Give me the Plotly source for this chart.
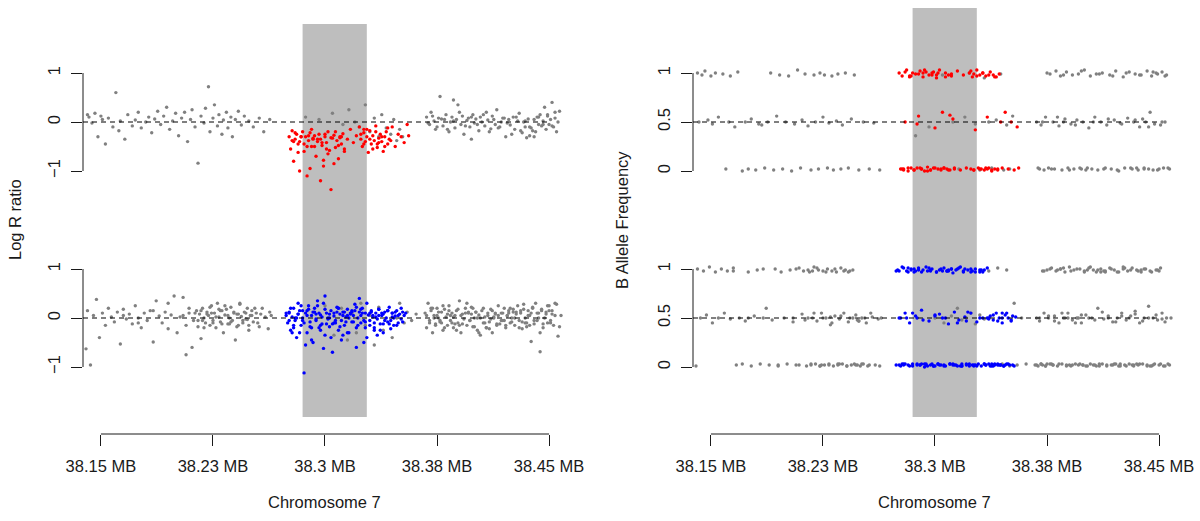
import plotly.graph_objects as go

W, H = 1200, 521
FONT = "Liberation Sans, Arial, Helvetica, sans-serif"

# ---------------- axis / region values ----------------
TICK_KB = [38150, 38225, 38300, 38375, 38450]
TICK_TEXT = ["38.15 MB", "38.23 MB", "38.3 MB", "38.38 MB", "38.45 MB"]
X_RANGE = [38138, 38460]
CNV_REGION = [38285, 38328]
LRR_TICKS = [-1, 0, 1]
LRR_TEXT = ["\u22121", "0", "1"]
BAF_TICKS = [0, 0.5, 1]
BAF_TEXT = ["0", "0.5", "1"]
LRR_REF = 0
BAF_REF = 0.5

# ---------------- upper sample ----------------
POS_U_A = [38141, 38142, 38144, 38146, 38148, 38150, 38151, 38153, 38155, 38158,
           38160, 38162, 38163, 38166, 38168, 38171, 38173, 38175, 38177, 38180,
           38182, 38184, 38186, 38188, 38190, 38192, 38194, 38196, 38198, 38200,
           38202, 38204, 38206, 38208, 38210, 38211, 38213, 38215, 38217, 38219,
           38220, 38222, 38223, 38225, 38226, 38228, 38229, 38231, 38232, 38234,
           38235, 38237, 38238, 38240, 38242, 38244, 38246, 38249, 38252, 38256,
           38259, 38263]
LRR_U_A = [.15, .1, -.02, .18, -.3, .12, .05, -.45, .08, -.1,
           .6, -.18, .02, -.35, .15, -.08, .04, .2, -.12, .0,
           .1, -.22, .06, .22, -.05, .12, .3, -.15, .02, .18,
           -.28, .08, .2, -.4, .05, .25, -.1, -.84, .12, -.02,
           .28, .72, -.2, .08, .35, -.08, .15, -.25, .04, .2,
           -.12, .1, -.3, .05, .22, -.06, .12, .02, -.1, .08,
           -.2, .05]
BAF_U_A = [1.0, .5, .98, 1.02, .52, .97, .48, 1.0, .55, .99,
           .02, .5, .97, .45, 1.01, 0.0, .5, .02, .53, .01,
           .48, .47, .03, .5, 1.0, .01, .56, .98, .02, .5,
           .97, 0.0, .48, 1.03, .03, .52, .99, .46, .01, .98,
           .5, .02, 1.0, .55, .98, .03, .49, .97, .01, .51,
           .99, .02, .47, 1.0, .03, .53, .98, .01, .5, .02,
           .49, .01]

POS_U_CNV = [38276, 38277, 38278, 38279, 38280, 38281, 38282, 38283, 38284, 38285,
             38286, 38287, 38288, 38289, 38290, 38291, 38292, 38293, 38294, 38295,
             38296, 38297, 38298, 38299, 38300, 38301, 38302, 38303, 38304, 38305,
             38306, 38307, 38308, 38309, 38310, 38311, 38312, 38313, 38315, 38317,
             38319, 38321, 38323, 38324, 38325, 38326, 38327, 38328, 38329, 38330,
             38331, 38332, 38333, 38334, 38335, 38336, 38337, 38338, 38339, 38340,
             38341, 38342, 38343, 38345, 38347, 38349, 38351, 38353, 38355, 38356,
             38279, 38283, 38288, 38292, 38297, 38301, 38306, 38310, 38326, 38335,
             38278, 38280, 38282, 38284, 38286, 38289, 38291, 38293, 38295, 38298,
             38300, 38302, 38304, 38307, 38309, 38311, 38313, 38324, 38326, 38328,
             38330, 38332, 38334, 38336, 38338, 38340, 38342, 38344, 38290, 38299]
LRR_U_CNV = [-.3, -.55, -.18, -.8, -.35, -.25, -.62, -.4, -.3, -.2,
             -.45, -.3, -1.1, -.38, -.22, -.5, -.33, -.28, -.7, -.4,
             -.25, -.35, -.48, -.9, -.3, -.42, -.2, -.58, -1.38, -.33,
             -.27, -.52, -.38, -.75, -.3, -.45, -.24, -.6, -.35, -.15,
             -.42, -.28, -.1, -.35, -.5, -.22, -.4, -.3, -.62, -.18,
             -.45, -.28, -.38, -.08, -.52, -.33, -.25, -.4, -.6, -.3,
             -.2, -.45, -.35, -.1, -.5, -.25, -.3, -.42, -.05, -.28,
             -.4, -1.0, -.5, -.35, -1.2, -.55, -.85, -.32, -.15, -.45,
             -.38, -.22, -.45, -.3, -.6, -.28, -.15, -.5, -.35, -.42,
             -.25, -.65, -.32, -.2, -.48, -.3, -.55, -.25, -.45, -.15,
             -.35, -.55, -.2, -.42, -.3, -.5, -.12, -.38, -.95, -.78]
BAF_U_CNV = [1.0, .02, .97, .01, .5, 1.03, 0.0, .96, .03, 1.0,
             .01, .99, .03, .56, 1.02, .02, .96, 0.0, 1.01, .04,
             .98, .01, 1.0, .03, .44, .95, .02, 1.03, .01, .6,
             .03, 1.0, .02, .98, .01, .97, .53, .02, 1.02, .01,
             .98, .03, 1.0, .02, .96, .01, .42, 1.03, .03, .98,
             .02, 1.0, .01, .97, .55, .03, 1.01, 0.0, .98, .02,
             .96, .01, .99, .03, .6, .02, .5, .01, .45, .03,
             .02, .97, .48, 1.0, .01, .98, .03, .57, .99, .02,
             .02, 1.01, .03, .97, .01, .99, .02, 1.03, 0.0, .98,
             .03, 1.0, .02, .96, .01, .99, .03, 1.02, .01, .97,
             .02, 1.0, .03, .98, .01, .96, .02, .5, .03, 1.01]

POS_U_NEAR = [38287, 38296, 38305, 38312, 38316, 38320, 38323, 38327, 38330, 38333,
              38336, 38338, 38341, 38344, 38346, 38348, 38350, 38352]
LRR_U_NEAR = [.1, .05, .18, -.05, .25, .0, -.1, .35, -.2, .08,
              -.3, .15, -.12, -.25, .05, -.38, -.15, -.3]
BAF_U_NEAR = [.36, .45, .98, .5, .02, .55, 1.0, .48, .01, .95,
              .5, .03, .52, .99, .01, .47, .02, .56]

POS_U_C = [38368, 38370, 38371, 38373, 38374, 38376, 38377, 38379, 38380, 38381,
           38383, 38384, 38385, 38387, 38388, 38389, 38391, 38392, 38393, 38395,
           38396, 38397, 38399, 38400, 38401, 38403, 38404, 38405, 38407, 38408,
           38409, 38411, 38412, 38414, 38415, 38417, 38418, 38420, 38421, 38423,
           38424, 38426, 38427, 38429, 38430, 38432, 38433, 38434, 38436, 38437,
           38438, 38440, 38441, 38442, 38443, 38444, 38445, 38446, 38447, 38448,
           38435, 38439, 38449, 38450, 38451, 38452, 38453, 38454, 38455, 38457,
           38369, 38372, 38375, 38378, 38382, 38386, 38390, 38394, 38398, 38402,
           38406, 38410, 38413, 38416, 38419, 38422, 38425, 38428, 38431, 38434,
           38437, 38440, 38443, 38446, 38449, 38452, 38454, 38456, 38386, 38398]
LRR_U_C = [.1, -.05, .2, .02, -.15, .08, .52, -.08, .05, .15,
           -.2, .0, .1, -.12, .05, .35, -.05, .12, -.25, .03,
           .08, -.1, .15, -.02, .06, -.18, .1, .0, -.08, .2,
           .04, -.14, .12, -.05, .25, -.1, .0, .08, -.3, .05,
           -.06, .1, -.15, .02, .18, -.22, .0, -.1, .06, -.28,
           -.12, .05, -.2, .1, -.05, .15, -.08, .02, .3, -.15,
           -.32, -.18, .12, -.05, .05, .4, -.1, .08, -.2, .22,
           -.02, .12, -.1, .06, -.15, .02, .2, -.08, .1, -.05,
           .15, -.2, .05, -.12, .08, -.02, -.25, .1, -.18, .02,
           -.1, -.3, .1, -.05, .15, -.08, .2, .0, .45, -.35]
BAF_U_C = [.5, .02, .47, .01, .55, .03, .99, .5, .02, 1.02,
           .46, .97, .01, .53, 1.01, .03, .48, .98, .02, .52,
           .99, .03, .5, 1.03, .01, .44, .97, .02, .55, .99,
           .01, .5, 1.0, .03, .47, .98, .02, .52, 1.02, 0.0,
           .49, .96, .03, .54, 1.01, .02, .5, .99, .01, .45,
           .98, .03, .5, 1.02, .02, .6, .97, .01, .48, 1.0,
           .03, .53, .99, .02, .47, 1.01, .03, .5, .98, .02,
           .03, .5, 1.0, .02, .55, .98, .01, .47, 1.02, .03,
           .5, .99, .02, .53, .97, .01, .48, 1.0, .03, .52,
           .98, .02, .45, 1.01, .01, .5, .97, .03, .5, .02]

# ---------------- lower sample ----------------
POS_L_A = [38140, 38141, 38143, 38145, 38147, 38149, 38151, 38153, 38155, 38157,
           38159, 38161, 38163, 38165, 38167, 38169, 38171, 38173, 38175, 38177,
           38179, 38181, 38183, 38185, 38187, 38189, 38191, 38193, 38195, 38197,
           38199, 38201, 38203, 38205, 38207, 38209, 38211, 38212, 38214, 38215,
           38216, 38217, 38218, 38219, 38220, 38221, 38222, 38223, 38224, 38225,
           38226, 38227, 38228, 38229, 38230, 38231, 38232, 38233, 38234, 38235,
           38236, 38237, 38238, 38239, 38240, 38241, 38242, 38243, 38244, 38245,
           38246, 38247, 38248, 38249, 38250, 38251, 38252, 38254, 38256, 38258,
           38260, 38262, 38263, 38264, 38218, 38224, 38230, 38236, 38242, 38248,
           38205, 38207, 38209, 38213, 38215, 38217, 38219, 38221, 38223, 38225,
           38227, 38229, 38231, 38233, 38235, 38237, 38239, 38241, 38243, 38245,
           38247, 38249, 38251, 38253, 38255, 38257, 38185, 38175, 38195, 38165]
LRR_L_A = [-.63, .15, -.96, .05, .38, -.4, .1, -.15, .2, .02,
           -.08, .12, -.53, .18, -.02, .08, -.12, .25, .0, -.2,
           .1, -.05, .15, -.49, .35, .04, -.1, .12, -.22, .06,
           .45, -.3, .02, .42, -.75, .1, -.6, -.05, .15, -.18,
           .08, -.42, .2, .0, -.1, .12, .05, -.15, .25, -.05,
           .1, -.2, .3, .02, -.08, .15, -.3, .06, .18, -.12,
           .0, .22, -.05, .1, -.45, .08, -.15, .28, .03, -.1,
           .12, -.02, .2, -.25, .05, .15, -.08, .1, -.18, .2,
           .02, -.22, .12, .05, -.05, .1, .15, -.12, .08, -.03,
           .05, -.15, .2, .1, -.05, .15, -.2, .08, .22, -.1,
           .02, .18, -.12, .25, .05, -.08, .12, -.18, .3, -.05,
           .1, -.15, .05, .2, -.1, .08, .15, -.1, .3, .05]
BAF_L_A = [.01, 1.0, .5, .98, .53, 1.02, .45, .97, .5, 1.0,
           .55, .98, .49, 1.01, .02, .5, .03, .47, .97, .01,
           .52, .99, .03, .5, .6, .02, .48, 1.0, .01, .97,
           .5, .03, .99, .46, .02, 1.01, .54, .98, .01, .5,
           .97, .02, .5, 1.02, .03, .47, .99, .01, .55, .98,
           .02, .5, 1.0, .03, .43, .98, .01, .52, .97, .02,
           .49, 1.01, .03, .55, .99, .01, .46, .98, .02, .5,
           .03, .53, .02, .47, .01, .5, .03, .45, .02, .51,
           .02, .49, .01, .5, .98, .02, .51, .03, .97, .48,
           .5, 1.0, .02, .48, .99, .03, .55, 1.01, .01, .5,
           .97, .02, .45, 1.0, .03, .52, .98, .01, .5, .99,
           .02, .47, .03, .5, .01, .55, 1.0, .5, .02, .98]

POS_L_CNV = [38274, 38275, 38276, 38277, 38278, 38279, 38280, 38281, 38282, 38283,
             38284, 38285, 38286, 38287, 38288, 38289, 38290, 38291, 38292, 38293,
             38294, 38295, 38296, 38297, 38298, 38299, 38300, 38301, 38302, 38303,
             38304, 38305, 38306, 38307, 38308, 38309, 38310, 38311, 38312, 38313,
             38314, 38315, 38316, 38317, 38318, 38319, 38320, 38321, 38322, 38323,
             38324, 38325, 38326, 38327, 38328, 38329, 38330, 38331, 38332, 38333,
             38334, 38335, 38336, 38337, 38338, 38339, 38340, 38341, 38342, 38343,
             38344, 38345, 38346, 38347, 38348, 38349, 38350, 38351, 38352, 38353,
             38276, 38279, 38282, 38285, 38288, 38291, 38294, 38297, 38300, 38303,
             38306, 38309, 38312, 38315, 38318, 38321, 38324, 38327, 38330, 38333,
             38336, 38339, 38342, 38345, 38278, 38284, 38290, 38296, 38302, 38308,
             38314, 38320, 38326, 38332, 38338, 38344, 38281, 38293, 38305, 38317,
             38274, 38276, 38277, 38279, 38280, 38282, 38283, 38285, 38286, 38288,
             38289, 38291, 38292, 38294, 38295, 38297, 38298, 38300, 38301, 38303,
             38304, 38306, 38307, 38309, 38310, 38312, 38313, 38315, 38316, 38318,
             38319, 38321, 38322, 38324, 38325, 38327, 38328, 38330, 38331, 38333,
             38334, 38336, 38337, 38339, 38340, 38342, 38343, 38345, 38346, 38348,
             38349, 38351, 38352, 38354, 38287, 38299, 38311, 38323, 38335, 38347]
LRR_L_CNV = [.05, -.1, .12, -.25, .02, .2, -.05, -.4, .08, .15,
             -.15, .0, -1.12, .1, -.3, .18, -.08, .05, -.5, .12,
             -.02, .25, -.2, .06, -.12, .3, -.35, .1, .0, -.18,
             .15, -.7, .04, -.1, .22, -.25, .08, -.05, .12, -.15,
             .02, .18, -.3, .1, -.08, .05, .28, -.2, .0, .12,
             -.1, .2, -.05, .1, -.4, .06, -.15, .15, .02, -.25,
             .1, -.02, .18, -.12, .05, -.3, .12, .0, -.08, .22,
             -.05, .1, -.15, .04, .15, -.1, .08, -.02, .12, .05,
             .1, -.2, .3, -.05, .15, -.45, .08, -.15, .45, .0,
             -.1, .2, -.35, .05, .12, -.6, .18, -.08, .1, -.2,
             .05, -.12, .15, .02, -.3, .25, -.18, .1, -.02, .12,
             -.08, .15, -.5, .05, .1, -.22, .0, .2, -.12, .08,
             .1, -.05, .2, -.15, .0, .08, -.3, .15, -.1, .05,
             .25, -.2, .12, -.05, .35, -.25, .02, .18, -.12, .08,
             -.4, .1, -.05, .2, -.18, .05, .12, -.3, .0, .15,
             -.08, .22, -.15, .05, .1, -.2, .3, -.05, .12, -.1,
             .02, .18, -.25, .08, -.05, .15, -.12, .1, .0, -.15,
             .05, .2, -.08, .1, -.55, -.62, -.45, .4, -.35, .12]
BAF_L_CNV = [.02, .99, .5, .01, 1.02, .03, .55, .98, .02, .45,
             1.0, .01, .97, .52, .03, 1.01, .02, .58, .99, 0.0,
             .03, .98, .47, .02, 1.0, .01, .53, .97, .03, .99,
             .02, .5, 1.01, .01, .98, .44, .03, 1.0, .02, .56,
             .99, .01, .48, 1.02, .03, .97, .51, .02, .99, .01,
             .55, .98, .02, 1.0, .46, .03, .97, .01, .5, .99,
             .02, 1.01, .03, .52, .01, .48, .02, .55, .03, .5,
             .02, .45, .01, .53, .03, .5, .02, .47, .52, .01,
             .98, .02, 1.01, .03, .5, .97, .02, .99, .01, .54,
             .02, .98, .03, 1.0, .01, .47, .97, .02, .99, .03,
             .5, .01, .02, .55, .03, .99, .02, 1.01, .03, .98,
             .02, 1.0, .01, .97, .03, .02, .5, .03, .98, .01,
             .98, .02, .5, 1.01, .03, .97, .01, .55, 1.0, .02,
             .99, .03, .48, 1.02, .01, .98, .03, .52, .97, .02,
             1.0, .01, .5, .99, .03, .96, .02, .45, 1.01, .01,
             .98, .03, .56, 1.0, .02, .97, .01, .5, .99, .03,
             .02, .49, .01, .53, .03, .47, .02, .5, .01, .55,
             .03, .48, .02, .51, .98, .01, 1.0, .03, .5, .02]

POS_L_NEAR = [38300, 38306, 38311, 38315, 38318, 38321, 38324, 38327, 38330, 38333,
              38336, 38339, 38342, 38345, 38348, 38350, 38353, 38355, 38358, 38361]
LRR_L_NEAR = [.25, -.35, .2, -.45, .1, -.3, .3, -.15, .05, -.55,
              .22, -.25, .15, -.4, .0, .3, -.1, .12, -.05, .08]
BAF_L_NEAR = [.5, .45, .52, .6, .48, .5, .55, .44, .53, .49,
              .98, .02, 1.01, .03, .99, .01, .65, .02, .5, .03]

POS_L_C = [38367, 38368, 38369, 38370, 38371, 38372, 38373, 38374, 38375, 38376,
           38377, 38378, 38379, 38380, 38381, 38382, 38383, 38384, 38385, 38386,
           38387, 38388, 38389, 38390, 38391, 38392, 38393, 38394, 38395, 38396,
           38397, 38398, 38399, 38400, 38401, 38402, 38403, 38404, 38405, 38406,
           38407, 38408, 38409, 38410, 38411, 38412, 38413, 38414, 38415, 38416,
           38417, 38418, 38419, 38420, 38421, 38422, 38423, 38424, 38425, 38426,
           38427, 38428, 38429, 38430, 38431, 38432, 38433, 38434, 38435, 38436,
           38437, 38438, 38439, 38440, 38441, 38442, 38443, 38444, 38445, 38446,
           38447, 38448, 38449, 38450, 38451, 38452, 38453, 38454, 38456, 38458,
           38372, 38378, 38384, 38390, 38396, 38402, 38408, 38414, 38420, 38426,
           38432, 38438, 38444, 38450, 38375, 38387, 38399, 38411, 38423, 38435,
           38368, 38370, 38371, 38373, 38374, 38376, 38377, 38379, 38380, 38382,
           38383, 38385, 38386, 38388, 38389, 38391, 38392, 38394, 38395, 38397,
           38398, 38400, 38401, 38403, 38404, 38406, 38407, 38409, 38410, 38412,
           38413, 38415, 38416, 38418, 38419, 38421, 38422, 38424, 38425, 38427,
           38428, 38430, 38431, 38433, 38434, 38436, 38437, 38439, 38440, 38442,
           38443, 38445, 38446, 38448, 38449, 38451, 38452, 38454, 38455, 38457]
LRR_L_C = [.1, -.2, .3, -.05, .15, -.3, .05, -.12, .2, .0,
           -.08, .12, -.25, .18, .02, -.15, .25, -.05, .1, -.2,
           .05, .15, -.1, .35, -.3, .08, -.02, .2, -.15, .1,
           -.05, .22, -.18, .0, .12, -.25, .06, -.35, .15, -.1,
           .02, -.2, .1, -.08, .18, -.3, .0, .08, -.15, .05,
           -.12, .1, -.05, .2, -.2, .04, .15, -.1, .0, .12,
           -.15, .08, .25, -.05, .1, -.22, .18, .0, -.1, .15,
           .05, -.48, .2, -.12, .3, -.05, .1, -.69, .15, -.2,
           .0, .12, -.1, .25, -.05, .08, -.15, .3, -.37, .05,
           .2, -.1, .05, -.15, .12, .0, -.2, .1, -.05, .18,
           -.08, .1, -.3, .15, .05, -.12, .2, -.02, .1, -.18,
           .05, -.1, .2, .0, -.15, .12, -.05, .25, -.2, .08,
           .15, -.1, .02, -.25, .18, .05, -.12, .1, .3, -.05,
           .08, -.18, .12, -.3, .0, .2, -.1, .05, -.22, .15,
           .02, -.12, .25, -.05, .1, -.15, .05, .2, -.08, .0,
           .12, -.2, .15, .28, -.1, .05, -.15, .22, -.05, .1,
           .0, .18, -.12, .08, .25, -.1, .15, .05, .28, -.18]
BAF_L_C = [.02, .5, .01, .47, .03, .02, .55, .01, .99, .5,
           .03, 1.01, .02, .52, .98, .01, .45, 1.0, .03, .5,
           .97, .02, .55, 1.02, .01, .48, .99, .03, .5, .02,
           1.0, .45, .02, .98, .53, .01, 1.01, .03, .5, .99,
           .02, .97, .6, .01, 1.0, .03, .49, .98, .02, .52,
           1.01, .02, .46, .99, .03, .5, .97, .01, .55, 1.0,
           .02, .48, .98, .03, .52, 1.01, .01, .57, .99, .02,
           .45, .97, .03, .5, 1.0, .02, .62, .98, .01, .5,
           .03, .99, .48, .02, 1.01, .55, .01, .46, .03, .5,
           .98, .03, 1.0, .02, .5, .99, .01, .97, .03, 1.02,
           .02, .99, .01, .98, .03, .5, .02, .97, .01, .03,
           .02, .5, .03, .98, .01, .52, 1.0, .02, .47, .99,
           .03, .55, 1.01, .01, .5, .98, .02, .45, 1.0, .03,
           .53, .97, .01, .5, 1.02, .02, .48, .99, .03, .56,
           .98, .01, .5, 1.0, .02, .46, .97, .03, .52, 1.01,
           .01, .5, .99, .02, .54, .98, .03, .47, 1.0, .01,
           .5, .97, .02, .53, .99, .03, .49, .01, .5, .02]

GRAY = "#808080"
RED = "#ff0000"
BLUE = "#0000ff"
SHADE = "#bebebe"
INK = "#1a1a1a"
MSIZE = 3.4


def py(p):
    return 1 - p / H


def px(p):
    return p / W


fig = go.Figure()


def add_pts(x, y, color, xa, ya):
    fig.add_trace(go.Scatter(x=x, y=y, mode="markers", xaxis=xa, yaxis=ya,
                             marker=dict(color=color, size=MSIZE, line=dict(width=0)),
                             hoverinfo="skip", showlegend=False))


U_GRAY_X = POS_U_A + POS_U_NEAR + POS_U_C
L_GRAY_X = POS_L_A + POS_L_NEAR + POS_L_C

add_pts(U_GRAY_X, LRR_U_A + LRR_U_NEAR + LRR_U_C, GRAY, "x", "y")
add_pts(POS_U_CNV, LRR_U_CNV, RED, "x", "y")
add_pts(L_GRAY_X, LRR_L_A + LRR_L_NEAR + LRR_L_C, GRAY, "x", "y2")
add_pts(POS_L_CNV, LRR_L_CNV, BLUE, "x", "y2")
add_pts(U_GRAY_X, BAF_U_A + BAF_U_NEAR + BAF_U_C, GRAY, "x2", "y3")
add_pts(POS_U_CNV, BAF_U_CNV, RED, "x2", "y3")
add_pts(L_GRAY_X, BAF_L_A + BAF_L_NEAR + BAF_L_C, GRAY, "x2", "y4")
add_pts(POS_L_CNV, BAF_L_CNV, BLUE, "x2", "y4")

tickfont = dict(family=FONT, size=16.5, color=INK)
common = dict(showgrid=False, zeroline=False, showline=False, ticks="outside",
              ticklen=11, tickwidth=1, tickcolor=INK, tickfont=tickfont,
              automargin=False)

xcommon = dict(common, range=X_RANGE, tickmode="array", tickvals=TICK_KB,
               ticktext=TICK_TEXT, anchor="free", position=py(434),
               ticklabelstandoff=6)

UPPER_DOM = [py(220), py(24)]
LOWER_DOM = [py(416), py(220)]

lrr_ax = dict(common, range=[-2, 2], tickmode="array", tickvals=LRR_TICKS,
              ticktext=LRR_TEXT, tickangle=-90, ticklabelstandoff=4)
baf_ax = dict(common, range=[-0.5, 1.5], tickmode="array", tickvals=BAF_TICKS,
              ticktext=BAF_TEXT, tickangle=-90, ticklabelstandoff=4)

fig.update_layout(
    template="none",
    width=W, height=H, autosize=False,
    margin=dict(l=0, r=0, t=0, b=0, pad=0),
    paper_bgcolor="white", plot_bgcolor="rgba(0,0,0,0)",
    font=dict(family=FONT, size=16.5, color=INK),
    xaxis=dict(xcommon, domain=[px(83), px(564)]),
    xaxis2=dict(xcommon, domain=[px(693), px(1174)]),
    yaxis=dict(lrr_ax, domain=UPPER_DOM, anchor="x"),
    yaxis2=dict(lrr_ax, domain=LOWER_DOM, anchor="x"),
    yaxis3=dict(baf_ax, domain=UPPER_DOM, anchor="x2"),
    yaxis4=dict(baf_ax, domain=LOWER_DOM, anchor="x2"),
)

shapes = []
# shaded CNV region
for xr, top in (("x", 24), ("x2", 8)):
    shapes.append(dict(type="rect", xref=xr, yref="paper", x0=CNV_REGION[0], x1=CNV_REGION[1],
                       y0=py(417), y1=py(top), fillcolor=SHADE, line=dict(width=0), layer="below"))
# x axis lines (between first and last tick)
for xr in ("x", "x2"):
    shapes.append(dict(type="line", xref=xr, yref="paper", x0=TICK_KB[0], x1=TICK_KB[-1],
                       y0=py(434), y1=py(434), line=dict(color=INK, width=1)))
# y axis lines (between first and last tick)
for xr, yr, ticks in (("x domain", "y", LRR_TICKS), ("x domain", "y2", LRR_TICKS),
                      ("x2 domain", "y3", BAF_TICKS), ("x2 domain", "y4", BAF_TICKS)):
    shapes.append(dict(type="line", xref=xr, yref=yr, x0=0, x1=0, y0=ticks[0], y1=ticks[-1],
                       line=dict(color=INK, width=1)))
# dashed reference lines
for xr, yr, ref in (("x", "y", LRR_REF), ("x", "y2", LRR_REF),
                    ("x2", "y3", BAF_REF), ("x2", "y4", BAF_REF)):
    shapes.append(dict(type="line", xref=xr, yref=yr, x0=X_RANGE[0], x1=TICK_KB[-1],
                       y0=ref, y1=ref, line=dict(color="black", width=1, dash="5px,4px"),
                       layer="above"))
fig.update_layout(shapes=shapes)

ann = []
ann.append(dict(text="Log R ratio", xref="paper", yref="paper", x=px(15), y=py(220),
                xanchor="center", yanchor="middle",
                textangle=-90, showarrow=False, font=dict(family=FONT, size=16.5, color=INK)))
ann.append(dict(text="B Allele Frequency", xref="paper", yref="paper", x=px(622), y=py(220),
                xanchor="center", yanchor="middle",
                textangle=-90, showarrow=False, font=dict(family=FONT, size=16.5, color=INK)))
for xr in ("x", "x2"):
    ann.append(dict(text="Chromosome 7", xref=xr, yref="paper", x=TICK_KB[2], y=py(502),
                    xanchor="center", yanchor="middle",
                    showarrow=False, font=dict(family=FONT, size=16.5, color=INK)))
fig.update_layout(annotations=ann)

fig.write_html("out.html", config={"displayModeBar": False},
               post_script="document.body.style.margin='0px';")
